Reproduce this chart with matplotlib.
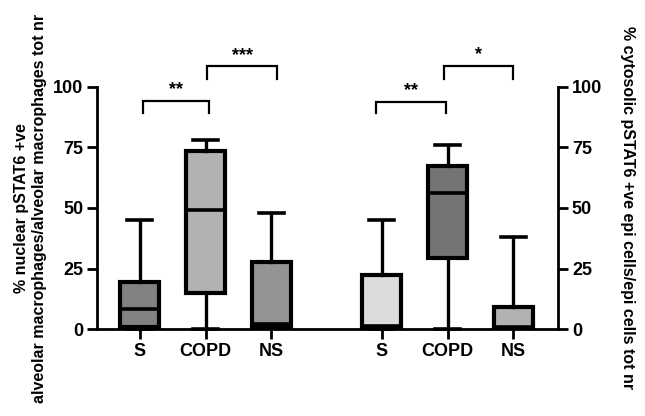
import matplotlib
matplotlib.use("Agg")
import matplotlib.pyplot as plt

plt.rcParams['font.family'] = ['Liberation Sans', 'DejaVu Sans']
plt.rcParams['font.weight'] = 'bold'

# ---- data ----
categories = ["S", "COPD", "NS", "S", "COPD", "NS"]
whisker_low = [0, 0, 0.5, 0, 0, 0.5]
q1 = [1, 15, 1, 0.5, 29.5, 0.5]
medians = [8.3, 49, 2, 1.2, 56, 1]
q3 = [19.5, 73.5, 27.5, 22.5, 67.5, 9]
whisker_high = [45, 78, 48, 45, 76, 38]
box_colors = ["#818181", "#b2b2b2", "#949494", "#dcdcdc", "#747474", "#b1b1b1"]
y_ticks = [0, 25, 50, 75, 100]
left_label = "% nuclear pSTAT6 +ve\nalveolar macrophages/alveolar macrophages tot nr"
right_label = "% cytosolic pSTAT6 +ve epi cells/epi cells tot nr"
# significance: (group i, group j, text)
sig_left = [(0, 1, "**"), (1, 2, "***")]
sig_right = [(3, 4, "**"), (4, 5, "*")]

# ---- layout ----
positions = [1, 2, 3, 4.68, 5.68, 6.68]

fig = plt.figure(figsize=(6.45, 4.16), dpi=100)
ax = fig.add_axes([97/645, 1 - 329/416, (558-97)/645, (329-87)/416])

stats = []
for i in range(len(categories)):
    stats.append(dict(whislo=whisker_low[i], q1=q1[i], med=medians[i],
                      q3=q3[i], whishi=whisker_high[i], label=categories[i]))

bp = ax.bxp(stats, positions=positions, widths=0.6, capwidths=0.38,
            patch_artist=True, showfliers=False,
            boxprops=dict(linewidth=3.0, edgecolor='black'),
            medianprops=dict(linewidth=2.6, color='black'),
            whiskerprops=dict(linewidth=2.4, color='black'),
            capprops=dict(linewidth=2.6, color='black'),
            manage_ticks=False)
for patch, c in zip(bp['boxes'], box_colors):
    patch.set_facecolor(c)
for k in ['boxes', 'medians', 'whiskers', 'caps']:
    for a in bp[k]:
        a.set_clip_on(False)

ax.set_xlim(0.35, 7.36)
ax.set_ylim(0, 100)
ax.set_xticks(positions)
ax.set_xticklabels(categories, fontsize=13, fontweight='bold')
ax.set_yticks(y_ticks)
ax.set_yticklabels([str(v) for v in y_ticks], fontsize=13, fontweight='bold')
for s in ['top', 'right']:
    ax.spines[s].set_visible(False)
ax.spines['left'].set_linewidth(2.0)
ax.spines['bottom'].set_linewidth(2.0)
ax.tick_params(axis='both', width=2.0, length=7, pad=3)
ax.set_ylabel(left_label, fontsize=11.5, fontweight='bold', linespacing=1.3)
ax.yaxis.set_label_coords(-0.108, 0.5)

ax2 = ax.twinx()
ax2.set_ylim(0, 100)
ax2.set_yticks(y_ticks)
ax2.set_yticklabels([str(v) for v in y_ticks], fontsize=13, fontweight='bold')
for s in ['top', 'left', 'bottom']:
    ax2.spines[s].set_visible(False)
ax2.spines['right'].set_linewidth(2.0)
ax2.tick_params(axis='y', width=2.0, length=7, pad=3)
ax2.set_ylabel(right_label, fontsize=11.5, fontweight='bold', rotation=-90, va='bottom')
ax2.yaxis.set_label_coords(1.135, 0.5)

# significance brackets
def bracket(x1, x2, ytop, ybot, text):
    ax.plot([x1, x1, x2, x2], [ybot, ytop, ytop, ybot], color='black',
            linewidth=1.6, clip_on=False, solid_joinstyle='miter')
    ax.text((x1 + x2) / 2, ytop + 1.0, text, ha='center', va='bottom',
            fontsize=13, fontweight='bold')

offsets = {(0, 1): (0.05, 0.06), (1, 2): (0.03, 0.09), (3, 4): (-0.08, -0.03), (4, 5): (-0.05, 0.0)}
levels = {(0, 1): (94.3, 89.2), (1, 2): (108.5, 103.2), (3, 4): (94.0, 89.2), (4, 5): (108.7, 103.2)}
for (i, j, t) in sig_left + sig_right:
    o1, o2 = offsets[(i, j)]
    top, bot = levels[(i, j)]
    bracket(positions[i] + o1, positions[j] + o2, top, bot, t)

fig.savefig("out.png", dpi=100)
